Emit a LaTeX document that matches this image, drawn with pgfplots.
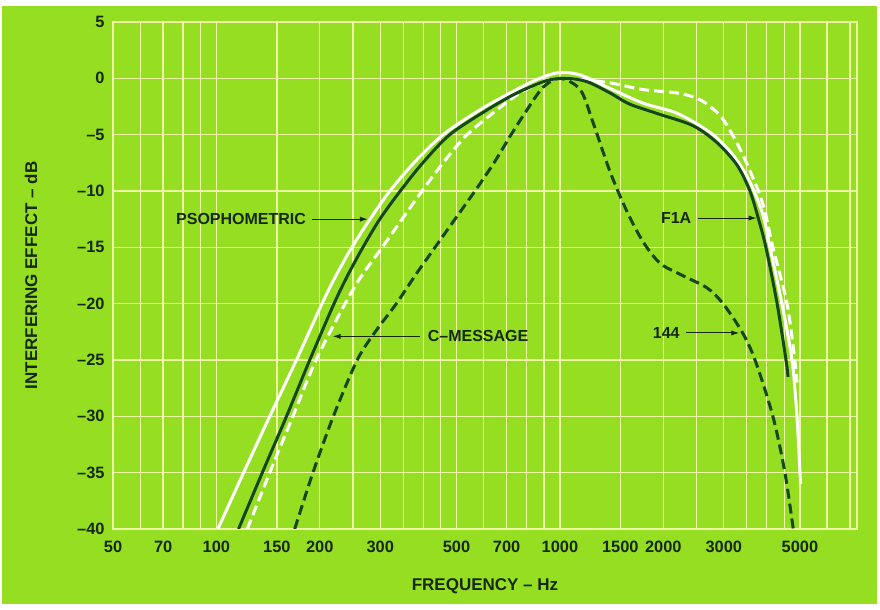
\documentclass[border=0pt]{standalone}
\usepackage{pgfplots}
\pgfplotsset{compat=1.18}
\usepackage{fontspec}
\setmainfont{Liberation Sans}
\usetikzlibrary{arrows.meta}
\definecolor{bg}{RGB}{150,222,34}
\definecolor{gridc}{RGB}{236,246,165}
\definecolor{dk}{RGB}{22,70,28}
\definecolor{txt}{RGB}{22,40,14}
\begin{document}
\begin{tikzpicture}[x=1pt,y=1pt]
\useasboundingbox (0,0) rectangle (440,305);
\fill[white] (0,0) rectangle (440,305);
\fill[bg] (1,3) rectangle (438.5,302);
\begin{axis}[
  at={(56.5pt,40.5pt)}, anchor=south west,
  scale only axis, width=372pt, height=253.5pt,
  xmode=log, xmin=50, xmax=7330, ymin=-40, ymax=5,
  xtick={50,70,100,150,200,300,500,700,1000,1500,2000,3000,5000},
  xticklabels={50,70,100,150,200,300,500,700,1000,1500,2000,3000,5000},
  minor xtick={60,80,90,250,350,400,450,600,800,900,2500,3500,4000,4500,6000,7000},
  ytick={-40,-35,...,5},
  yticklabels={\textendash40,\textendash35,\textendash30,\textendash25,\textendash20,\textendash15,\textendash10,\textendash5,0,5},
  grid=both,
  major grid style={gridc, line width=0.7pt},
  minor grid style={gridc, line width=0.7pt},
  major tick length=0pt, minor tick length=0pt,
  axis line style={gridc, line width=0.7pt},
  tick label style={font=\bfseries\fontsize{8.2}{9}\selectfont, text=txt},
  yticklabel style={inner sep=0pt, xshift=-4pt},
  xticklabel style={inner sep=0pt, yshift=-6pt},
  xlabel={FREQUENCY \textendash\ Hz},
  ylabel={INTERFERING EFFECT \textendash\ dB},
  label style={font=\bfseries\fontsize{8.5}{10}\selectfont, text=txt},
  xlabel style={at={(axis description cs:0.5,-0.113)}, anchor=center},
  ylabel style={at={(axis description cs:-0.110,0.5)}, anchor=center, rotate=0},
  every axis plot/.append style={line width=1.5pt, smooth, tension=0.5},
  clip=true,
]
% C-MESSAGE (white dashed)
\addplot[white, dash pattern=on 5pt off 2.5pt] coordinates {
(123,-40) (143,-35) (167,-30) (195,-25) (237,-20) (265,-17.5)
(304,-15) (347,-12.5) (397,-10) (457,-7.5) (537,-5) (656,-2.8) (765,-1.3)
(880,-0.4) (1000,0) (1146,-0.1) (1400,-0.4) (1746,-1.0) (2193,-1.3)
(2560,-1.9) (2926,-3.3) (3192,-5.1) (3410,-6.8) (3750,-9.7) (3955,-11.8)
(4170,-15) (4585,-20) (4830,-25) (4900,-27)};
% 144 (dark dashed)
\addplot[dk, dash pattern=on 5pt off 2.5pt] coordinates {
(169,-40) (191,-35) (219,-30) (257,-25) (290,-22.5) (334,-20) (379,-17.5)
(433,-15) (495,-12.5) (566,-10) (643,-7.5) (721,-5) (802,-2.8) (893,-0.8)
(1000,0) (1146,-1) (1248,-3.9) (1400,-8.3) (1567,-11.8) (1746,-14.5)
(1955,-16.4) (2240,-17.4) (2682,-18.6) (2985,-20) (3390,-22.5) (3700,-25)
(4170,-30) (4520,-35) (4780,-40)};
% PSOPHOMETRIC (white solid)
\addplot[white] coordinates {
(101,-40) (120,-35) (143,-30) (171,-25) (203,-20) (223,-17.5) (248,-15)
(280,-12.5) (320,-10) (376,-7.5) (457,-5) (585,-2.8) (716,-1.3) (858,-0.1)
(990,0.5) (1146,0.3) (1400,-0.9) (1746,-2.2) (2193,-3.1) (2737,-4.8)
(3192,-6.8) (3575,-9.2) (3900,-12.1) (4090,-15) (4430,-20) (4740,-25)
(4900,-30) (5000,-35) (5020,-36)};
% F1A (dark solid)
\addplot[dk] coordinates {
(116,-40) (136,-35) (160,-30) (187,-25) (220,-20) (241,-17.5) (267,-15)
(299,-12.5) (343,-10) (399,-7.5) (478,-5) (614,-2.8) (750,-1.3) (916,-0.2)
(1050,0) (1200,-0.3) (1400,-1.3) (1600,-2.3) (1955,-3.2) (2440,-4.2)
(2866,-5.7) (3280,-7.7) (3575,-10) (3780,-12.4) (3980,-15) (4290,-20)
(4553,-25) (4616,-26.5)};
% annotations
\node[font=\bfseries\fontsize{8}{9}\selectfont, text=txt] at (axis cs:118,-12.5) {PSOPHOMETRIC};
\draw[txt, line width=0.5pt, -{Latex[length=4pt,width=2.6pt]}] (axis cs:190,-12.5) -- (axis cs:276,-12.5);
\node[font=\bfseries\fontsize{8}{9}\selectfont, text=txt] at (axis cs:578,-22.9) {C\textendash MESSAGE};
\draw[txt, line width=0.5pt, -{Latex[length=4pt,width=2.6pt]}] (axis cs:392,-22.9) -- (axis cs:218,-22.9);
\node[font=\bfseries\fontsize{8}{9}\selectfont, text=txt] at (axis cs:2180,-12.4) {F1A};
\draw[txt, line width=0.5pt, -{Latex[length=4pt,width=2.6pt]}] (axis cs:2520,-12.4) -- (axis cs:3740,-12.4);
\node[font=\bfseries\fontsize{8}{9}\selectfont, text=txt] at (axis cs:2040,-22.6) {144};
\draw[txt, line width=0.5pt, -{Latex[length=4pt,width=2.6pt]}] (axis cs:2330,-22.6) -- (axis cs:3330,-22.6);
\end{axis}
\end{tikzpicture}
\end{document}
